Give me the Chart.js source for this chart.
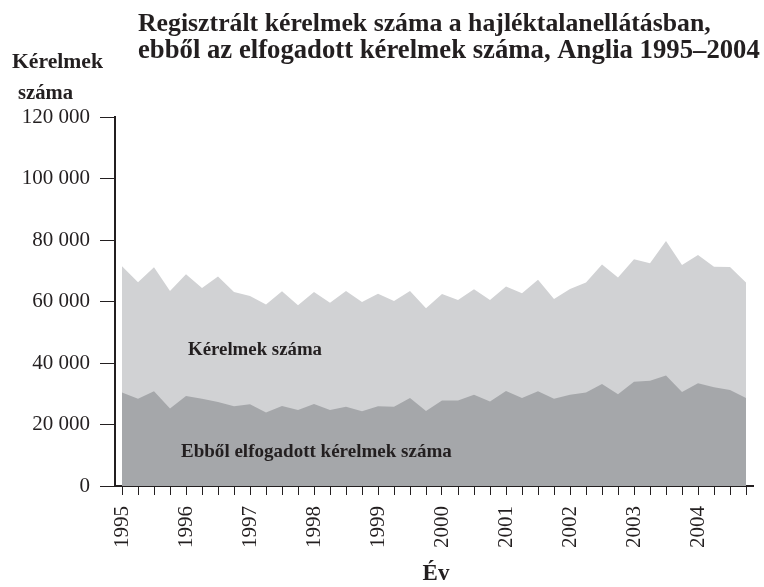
<!DOCTYPE html>
<html><head><meta charset="utf-8">
<script src="https://cdn.jsdelivr.net/npm/chart.js@4.4.1/dist/chart.umd.min.js"></script>
<style>html,body{margin:0;padding:0;background:#fff}#wrap{width:764px;height:587px}</style>
</head><body><div id="wrap"><canvas id="c" width="764" height="587"></canvas></div>
<script>
// ---- data ----
const years = ['1995','1996','1997','1998','1999','2000','2001','2002','2003','2004'];
const quarterNames = ['I','II','III','IV'];
const quarters = years.flatMap(y => quarterNames.map(q => y + ' ' + q));
const totalApplications = [
  71500, 66300, 71100, 63400, 68900, 64400, 68100, 63100, 61800, 59000,
  63300, 58800, 63100, 59600, 63400, 59800, 62500, 60200, 63400, 57800,
  62400, 60500, 64000, 60500, 64900, 62700, 67100, 60800, 64100, 66200,
  72000, 67800, 73700, 72400, 79700, 71900, 75100, 71300, 71200, 66200
];
const acceptedApplications = [
  30400, 28400, 30800, 25200, 29300, 28400, 27300, 25900, 26600, 23900,
  26000, 24700, 26700, 24700, 25800, 24300, 25900, 25800, 28600, 24400,
  27800, 27800, 29700, 27500, 30900, 28600, 30800, 28400, 29700, 30400,
  33200, 29800, 33900, 34200, 35900, 30600, 33400, 32100, 31200, 28600
];
const yTickValues = [0, 20000, 40000, 60000, 80000, 100000, 120000];
const seriesNames = ['Kérelmek száma', 'Ebből elfogadott kérelmek száma'];
const titleLines = ['Regisztrált kérelmek száma a hajléktalanellátásban,', 'ebből az elfogadott kérelmek száma, Anglia 1995–2004'];
const yTitleLines = ['Kérelmek', 'száma'];
const xTitle = 'Év';

// ---- styles ----
const TEXT = '#231f20';
const SERIF = '"Liberation Serif", "Times New Roman", serif';
const LIGHT = '#d1d2d4';
const DARK = '#a5a7aa';

function fmt(v) { return String(v).replace(/\B(?=(\d{3})+(?!\d))/g, ' '); }

function fitText(ctx, text, x, y, width, base) {
  ctx.font = 'bold ' + base + 'px ' + SERIF;
  const w = ctx.measureText(text).width;
  const size = base * width / w;
  ctx.font = 'bold ' + size.toFixed(2) + 'px ' + SERIF;
  ctx.fillText(text, x, y);
}

const textPlugin = {
  id: 'texts',
  afterDraw(chart) {
    const ctx = chart.ctx;
    ctx.save();
    ctx.fillStyle = TEXT;
    ctx.textBaseline = 'alphabetic';
    ctx.textAlign = 'left';
    fitText(ctx, titleLines[0], 138, 31, 573, 24);
    fitText(ctx, titleLines[1], 138, 58, 622, 24);
    fitText(ctx, yTitleLines[0], 12, 68, 91, 20);
    fitText(ctx, yTitleLines[1], 18, 99, 55, 20);
    fitText(ctx, seriesNames[0], 188, 355, 134, 17);
    fitText(ctx, seriesNames[1], 181, 457, 271, 17);
    ctx.textAlign = 'center';
    ctx.font = 'bold 23px ' + SERIF;
    ctx.fillText(xTitle, 436, 580);
    ctx.restore();
  }
};

new Chart(document.getElementById('c'), {
  type: 'line',
  data: {
    labels: quarters,
    datasets: [
      {
        label: seriesNames[0],
        data: totalApplications.map((v, i) => ({x: i, y: v})),
        backgroundColor: LIGHT, borderWidth: 0, borderColor: LIGHT,
        pointRadius: 0, fill: 'origin', tension: 0, order: 2
      },
      {
        label: seriesNames[1],
        data: acceptedApplications.map((v, i) => ({x: i, y: v})),
        backgroundColor: DARK, borderWidth: 0, borderColor: DARK,
        pointRadius: 0, fill: 'origin', tension: 0, order: 1
      }
    ]
  },
  options: {
    responsive: false,
    animation: false,
    devicePixelRatio: 1,
    layout: { padding: { top: 117, right: 11, left: 0, bottom: 0 } },
    plugins: { legend: { display: false }, tooltip: { enabled: false }, title: { display: false } },
    scales: {
      x: {
        type: 'linear',
        min: -0.4375, max: quarters.length - 1 + 0.4375,
        afterBuildTicks: s => { s.ticks = quarters.map((_, i) => ({ value: i })); },
        afterFit: s => { s.height = 101; s.paddingLeft = 0; s.paddingRight = 0; },
        ticks: {
          autoSkip: false, minRotation: 90, maxRotation: 90, padding: 11,
          color: TEXT, font: { family: SERIF, size: 21 },
          callback: v => (v % 4 === 0 ? years[v / 4] : '')
        },
        grid: { drawOnChartArea: false, drawTicks: true, tickLength: 9, color: TEXT, lineWidth: 1 },
        border: { display: true, color: TEXT, width: 2 }
      },
      y: {
        min: 0, max: 120000,
        afterBuildTicks: s => { s.ticks = yTickValues.map(v => ({ value: v })); },
        afterFit: s => { s.width = 115; s.paddingTop = 0; s.paddingBottom = 0; },
        ticks: { color: TEXT, font: { family: SERIF, size: 21 }, padding: 10, callback: v => fmt(v) },
        grid: { drawOnChartArea: false, drawTicks: true, tickLength: 15, color: TEXT, lineWidth: 1 },
        border: { display: true, color: TEXT, width: 2 }
      }
    }
  },
  plugins: [textPlugin]
});
</script>
</body></html>
